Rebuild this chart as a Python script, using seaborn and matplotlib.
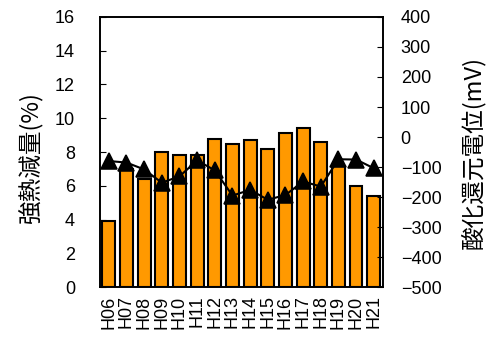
import numpy as np
import pandas as pd
import seaborn as sns
import matplotlib
matplotlib.use('Agg')
import matplotlib.pyplot as plt
import matplotlib.ticker as mtick

# Data
years = ['H06', 'H07', 'H08', 'H09', 'H10', 'H11', 'H12', 'H13',
         'H14', 'H15', 'H16', 'H17', 'H18', 'H19', 'H20', 'H21']
ignition_loss = [3.9, 7.0, 6.4, 8.0, 7.8, 7.8, 8.8, 8.5,
                 8.7, 8.2, 9.1, 9.4, 8.6, 7.2, 6.0, 5.4]
redox_mv = [-80, -85, -108, -152, -131, -78, -111, -195,
            -176, -209, -193, -148, -165, -74, -75, -104]

df = pd.DataFrame({'year': years, 'il': ignition_loss, 'orp': redox_mv})

sns.set_style('white')
plt.rcParams['font.family'] = ['Liberation Sans', 'Noto Sans CJK JP', 'DejaVu Sans']
plt.rcParams['text.color'] = 'black'
plt.rcParams['xtick.color'] = 'black'
plt.rcParams['ytick.color'] = 'black'
plt.rcParams['axes.labelcolor'] = 'black'
jp_font = ['Noto Sans CJK JP', 'DejaVu Sans']

fig = plt.figure(figsize=(4.95, 3.39), dpi=100)
ax = fig.add_axes([0.202, 0.153, 0.571, 0.797])

# bars: ignition loss
sns.barplot(data=df, x='year', y='il', color='#FF9900', saturation=1,
            edgecolor='black', linewidth=1.5, width=0.72, ax=ax)
ax.set_ylim(0, 16)
ax.set_xlim(-0.5, len(years) - 0.5)
ax.yaxis.set_major_locator(mtick.MultipleLocator(2))
ax.set_xlabel('')
ax.set_ylabel('強熱減量(%)', family=jp_font, fontsize=17)
ax.yaxis.label.set_va('center')
ax.yaxis.set_label_coords(-0.244, 0.481)

# right axis: redox potential
ax2 = ax.twinx()
sns.pointplot(data=df, x='year', y='orp', color='black', markers='^',
              linestyles='-', errorbar=None, ax=ax2,
              markersize=11, linewidth=1.5)
ax2.set_ylim(-500, 400)
ax2.yaxis.set_major_locator(mtick.MultipleLocator(100))
ax2.set_xlim(-0.5, len(years) - 0.5)
ax2.set_xlabel('')
ax2.set_ylabel('酸化還元電位(mV)', family=jp_font, fontsize=17, rotation=90)
ax2.yaxis.label.set_va('center')
ax2.yaxis.set_label_coords(1.318, 0.498)

ax.set_xticks(range(len(years)))
ax.set_xticklabels(years, rotation=90, fontsize=13)
ax.xaxis.set_minor_locator(mtick.FixedLocator(np.arange(0.5, len(years) - 1, 1)))
ax.tick_params(axis='x', which='major', length=0, pad=6)
ax.tick_params(axis='x', which='minor', direction='in', length=3, color='gray')
ax.tick_params(axis='y', direction='in', length=4, labelsize=13, pad=18)
ax2.tick_params(axis='y', direction='in', length=4, labelsize=13, pad=13)

for a in (ax, ax2):
    for s in a.spines.values():
        s.set_color('black')
        s.set_linewidth(1.2)

fig.savefig('out.png', dpi=100)
